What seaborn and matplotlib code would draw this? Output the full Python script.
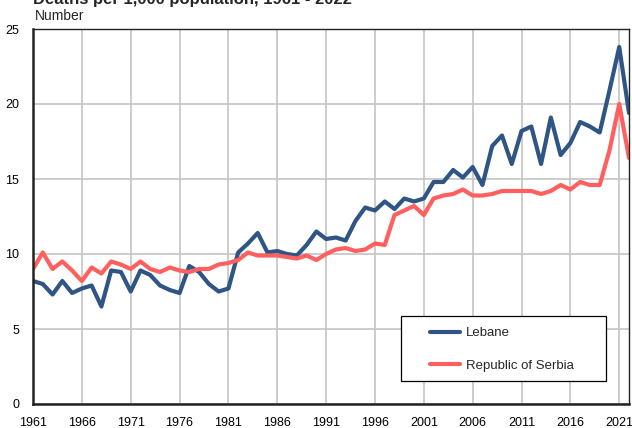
import numpy as np
import pandas as pd
import matplotlib
matplotlib.use("Agg")
import matplotlib.pyplot as plt
from matplotlib.patches import Rectangle
import seaborn as sns

years = list(range(1961, 2023))

lebane = [8.2, 8.0, 7.3, 8.2, 7.4, 7.7, 7.9, 6.5, 8.9, 8.8,
          7.5, 8.9, 8.6, 7.9, 7.6, 7.4, 9.2, 8.8, 8.0, 7.5,
          7.7, 10.1, 10.7, 11.4, 10.1, 10.2, 10.0, 9.9, 10.6, 11.5,
          11.0, 11.1, 10.9, 12.2, 13.1, 12.9, 13.5, 13.0, 13.7, 13.5,
          13.7, 14.8, 14.8, 15.6, 15.1, 15.8, 14.6, 17.2, 17.9, 16.0,
          18.2, 18.5, 16.0, 19.1, 16.6, 17.4, 18.8, 18.5, 18.1, 20.9,
          23.8, 19.4]

serbia = [9.0, 10.1, 9.0, 9.5, 8.9, 8.2, 9.1, 8.7, 9.5, 9.3,
          9.0, 9.5, 9.0, 8.8, 9.1, 8.9, 8.8, 9.0, 9.0, 9.3,
          9.4, 9.6, 10.1, 9.9, 9.9, 9.9, 9.8, 9.7, 9.9, 9.6,
          10.0, 10.3, 10.4, 10.2, 10.3, 10.7, 10.6, 12.6, 12.9, 13.2,
          12.6, 13.7, 13.9, 14.0, 14.3, 13.9, 13.9, 14.0, 14.2, 14.2,
          14.2, 14.2, 14.0, 14.2, 14.6, 14.3, 14.8, 14.6, 14.6, 16.9,
          20.0, 16.4]

series_names = ["Lebane", "Republic of Serbia"]
colors = ["#2E5583", "#FF5F5F"]

df = pd.concat([
    pd.DataFrame({"year": years, "value": lebane, "area": series_names[0]}),
    pd.DataFrame({"year": years, "value": serbia, "area": series_names[1]}),
])

sns.set_style("white")
plt.rcParams["font.family"] = ["Liberation Sans", "DejaVu Sans"]

W, H = 632, 428
fig = plt.figure(figsize=(W / 100, H / 100), dpi=100)
ax = fig.add_axes([33 / W, 24 / H, 596 / W, 375 / H])

sns.lineplot(data=df, x="year", y="value", hue="area", palette=colors,
             linewidth=3, ax=ax, legend=True)

ax.set_xlim(1961, 2022)
ax.set_ylim(0, 25)
ax.set_xticks(range(1961, 2022, 5))
ax.set_yticks(range(0, 26, 5))
ax.grid(True, color="#C4C4C4", linewidth=1.2)
ax.set_axisbelow(True)
ax.tick_params(axis="x", length=0, labelsize=9, colors="black", pad=9)
ax.tick_params(axis="y", length=0, labelsize=9, colors="black", pad=10)
ax.set_xlabel("")
ax.set_ylabel("")
for side in ["left", "bottom"]:
    ax.spines[side].set_color("#222222")
    ax.spines[side].set_linewidth(1.8)
for side in ["top", "right"]:
    ax.spines[side].set_color("#222222")
    ax.spines[side].set_linewidth(1.0)

# legend entries without frame, frame drawn as its own box behind them
leg = ax.legend(loc="upper left", bbox_to_anchor=(430 / W, 1 - 327 / H),
                bbox_transform=fig.transFigure, fontsize=9.5, frameon=False,
                borderpad=0, labelspacing=1.55, handlelength=2.3,
                handletextpad=0.45, borderaxespad=0)
box = Rectangle((401 / W, 1 - 381 / H), 205 / W, 65 / H,
                transform=fig.transFigure, facecolor="white",
                edgecolor="black", linewidth=0.9, zorder=4, clip_on=False)
ax.add_artist(box)
leg.set_zorder(5)

fig.text(33 / W, 1 - 4 / H, "Deaths per 1,000 population, 1961 - 2022",
         fontsize=12, fontweight="bold", ha="left", va="baseline")
fig.text(35 / W, 1 - 20 / H, "Number", fontsize=10, ha="left", va="baseline")

fig.savefig("out.png", dpi=100)
